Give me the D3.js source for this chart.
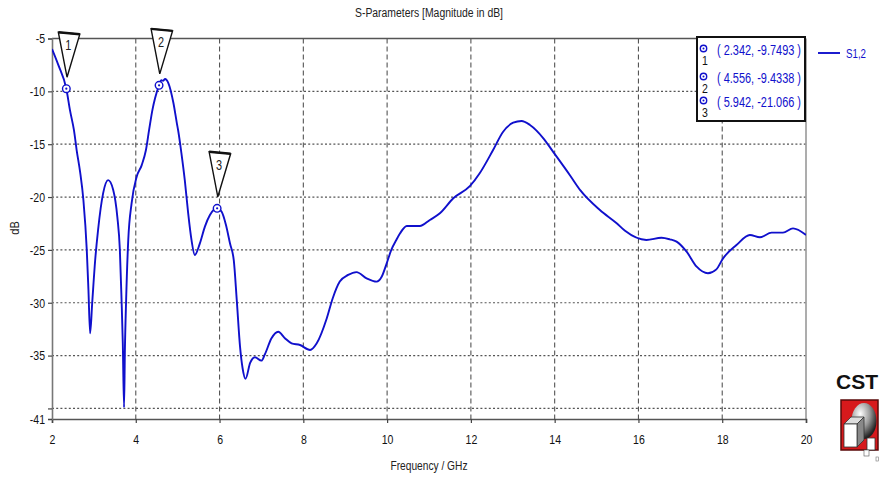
<!DOCTYPE html>
<html>
<head>
<meta charset="utf-8">
<script src="https://cdn.jsdelivr.net/npm/d3@7/dist/d3.min.js"></script>
<style>
  html, body { margin: 0; padding: 0; background: #fff; }
  svg { display: block; }
  .txt { font-family: "Liberation Sans", Arial, sans-serif; }
</style>
</head>
<body>
<svg id="chart" width="880" height="477"></svg>
<script>
// S1,2 magnitude (dB) against frequency (GHz)
const freq = [2.00, 2.15, 2.342, 2.43, 2.525, 2.59, 2.67, 2.75, 2.83, 2.87, 2.91, 2.96, 3.03, 3.10, 3.22, 3.34,
  3.46, 3.56, 3.62, 3.66, 3.69, 3.72, 3.74, 3.77, 3.82, 3.90, 4.02, 4.14, 4.24, 4.32, 4.40, 4.46, 4.556,
  4.61, 4.65, 4.70, 4.78, 4.90, 4.98, 5.01, 5.09, 5.17, 5.25, 5.33, 5.41, 5.53, 5.65, 5.77, 5.942, 6.05,
  6.15, 6.25, 6.34, 6.41, 6.49, 6.55, 6.62, 6.73, 6.845, 7.00, 7.08, 7.24, 7.40, 7.56, 7.72, 7.92, 8.16,
  8.32, 8.56, 8.70, 8.87, 9.07, 9.27, 9.51, 9.75, 9.87, 9.99, 10.10, 10.22, 10.31, 10.47, 10.78, 11.02,
  11.26, 11.58, 11.98, 12.21, 12.53, 12.77, 13.01, 13.21, 13.41, 13.73, 13.96, 14.36, 14.62, 15.08, 15.48,
  15.68, 16.19, 16.55, 16.75, 16.91, 17.15, 17.39, 17.66, 17.86, 18.02, 18.34, 18.66, 18.90, 19.18, 19.45,
  19.69, 20.00];
const s12 = [-6.0, -7.5, -9.7493, -11.8, -13.7, -15.6, -17.6, -20.3, -25.0, -28.8, -32.9, -30.0, -26.0, -23.1, -19.65, -18.4,
  -19.3, -21.9, -25.0, -29.7, -33.8, -39.9, -34.5, -29.7, -24.1, -20.6, -18.1, -17.0, -15.6, -13.6, -11.7, -10.66, -9.4338,
  -8.95, -9.0, -8.83, -9.24, -11.13, -13.0, -13.66, -15.86, -18.4, -21.5, -24.06, -25.48, -24.38, -22.8, -21.7, -21.066, -21.4,
  -22.6, -24.4, -26.0, -29.7, -34.2, -36.2, -37.2, -35.7, -35.16, -35.48, -34.9, -33.36, -32.74, -33.36, -33.84, -34.0, -34.47,
  -33.84, -31.47, -29.6, -28.0, -27.37, -27.1, -27.69, -28.0, -27.54, -26.27, -25.0, -24.06, -23.43, -22.74, -22.74, -22.17,
  -21.54, -20.12, -18.95, -17.75, -15.55, -13.82, -12.97, -12.8, -13.18, -14.44, -15.7, -17.91, -19.4, -21.23, -22.48,
  -23.2, -24.06, -23.85, -24.0, -24.22, -25.17, -26.59, -27.21, -26.84, -25.8, -24.54, -23.59, -23.81, -23.37, -23.37,
  -22.96, -23.59];

// Markers placed on the curve
const markerIds = ["1", "2", "3"];
const markerFreq = [2.342, 4.556, 5.942];
const markerDb = [-9.7493, -9.4338, -21.066];

// Axis ticks
const xTicks = [2, 4, 6, 8, 10, 12, 14, 16, 18, 20];
const yTicks = [-5, -10, -15, -20, -25, -30, -35, -41];
const yGrid = [-10, -15, -20, -25, -30, -35, -40];
const yTickMarks = [-5, -10, -15, -20, -25, -30, -35, -40, -41];

const seriesName = "S1,2";
const titleText = "S-Parameters [Magnitude in dB]";
const xLabel = "Frequency / GHz";
const yLabel = "dB";

const svg = d3.select("#chart");
const plot = { left: 52, right: 806, top: 38.5, bottom: 419 };
const lineBlue = "#1010cc";
const narrow = 0.78;

// Squeeze text horizontally around its anchor point (narrow UI face)
function condense(sel, f) {
  sel.each(function () {
    const t = d3.select(this);
    const tx = +t.attr("x") || 0, ty = +t.attr("y") || 0;
    t.attr("x", 0).attr("y", 0).attr("transform", `translate(${tx},${ty}) scale(${f},1)`);
  });
}

const x = d3.scaleLinear().domain([2, 20]).range([plot.left, plot.right]);
const y = d3.scaleLinear().domain([-41, -5]).range([plot.bottom, plot.top]);

// Grid
svg.append("g").selectAll("line").data(yGrid).join("line")
  .attr("x1", plot.left).attr("x2", plot.right)
  .attr("y1", d => y(d)).attr("y2", d => y(d))
  .attr("stroke", "#555").attr("stroke-width", 1.2).attr("stroke-dasharray", "2,2.2");
svg.append("g").selectAll("line").data(xTicks.slice(1, -1)).join("line")
  .attr("x1", d => x(d)).attr("x2", d => x(d))
  .attr("y1", plot.top).attr("y2", plot.bottom)
  .attr("stroke", "#555").attr("stroke-width", 1.1).attr("stroke-dasharray", "5,3");

// Frame
svg.append("line").attr("x1", plot.left).attr("x2", plot.right).attr("y1", plot.top).attr("y2", plot.top)
  .attr("stroke", "#555").attr("stroke-width", 1.6);
svg.append("line").attr("x1", plot.right).attr("x2", plot.right).attr("y1", plot.top).attr("y2", plot.bottom)
  .attr("stroke", "#999").attr("stroke-width", 1.6);

// Axes
const xAxis = d3.axisBottom(x).tickValues(xTicks).tickSize(4).tickPadding(11).tickFormat(d => String(d));
const yAxis = d3.axisLeft(y).tickValues(yTickMarks).tickSize(4).tickPadding(3)
  .tickFormat(d => yTicks.includes(d) ? String(d) : "");

const gx = svg.append("g").attr("transform", `translate(0,${plot.bottom})`).call(xAxis);
const gy = svg.append("g").attr("transform", `translate(${plot.left},0)`).call(yAxis);
[gx, gy].forEach(g => {
  g.select(".domain").attr("stroke", "#555").attr("stroke-width", 1.6);
  g.selectAll(".tick line").attr("stroke", "#444").attr("stroke-width", 1.2);
  g.selectAll(".tick text").attr("class", "txt").attr("font-size", 13.5).attr("fill", "#111");
  condense(g.selectAll(".tick text"), narrow);
});
gy.select(".domain").attr("stroke", "#777");

// Curve
svg.append("clipPath").attr("id", "plotClip").append("rect")
  .attr("x", plot.left).attr("y", plot.top - 2)
  .attr("width", plot.right - plot.left).attr("height", plot.bottom - plot.top + 2);

const line = d3.line().x((d, i) => x(freq[i])).y(d => y(d)).curve(d3.curveMonotoneX);
svg.append("path").datum(s12)
  .attr("clip-path", "url(#plotClip)")
  .attr("d", line).attr("fill", "none")
  .attr("stroke", lineBlue).attr("stroke-width", 1.9).attr("stroke-linejoin", "round");

// Marker flags and circles
const mk = svg.append("g");
markerIds.forEach((id, i) => {
  const px = x(markerFreq[i]), py = y(markerDb[i]);
  mk.append("path")
    .attr("d", `M${px + 0.7},${py - 11.5} L${px - 8},${py - 56.5} L${px + 13.5},${py - 54.5} Z`)
    .attr("fill", "#fff").attr("stroke", "#111").attr("stroke-width", 1.4).attr("stroke-linejoin", "miter");
  mk.append("line")
    .attr("x1", px - 8).attr("y1", py - 56.5).attr("x2", px + 13.5).attr("y2", py - 54.5)
    .attr("stroke", "#111").attr("stroke-width", 2.4);
  condense(mk.append("text").attr("class", "txt")
    .attr("x", px + 2).attr("y", py - 38.5)
    .attr("text-anchor", "middle").attr("font-size", 14).attr("fill", "#222").text(id), narrow);
  mk.append("circle").attr("cx", px).attr("cy", py).attr("r", 3.8)
    .attr("fill", "#fff").attr("stroke", lineBlue).attr("stroke-width", 1.4);
  mk.append("circle").attr("cx", px).attr("cy", py).attr("r", 1.1).attr("fill", lineBlue);
});

// Marker readout box
const box = svg.append("g");
box.append("rect").attr("x", 697).attr("y", 37).attr("width", 108).attr("height", 84)
  .attr("fill", "#fff").attr("stroke", "#111").attr("stroke-width", 2);
const rowY = [48.5, 76.5, 100.5];
markerIds.forEach((id, i) => {
  box.append("circle").attr("cx", 703.5).attr("cy", rowY[i]).attr("r", 3.2)
    .attr("fill", "#fff").attr("stroke", lineBlue).attr("stroke-width", 1.4);
  box.append("circle").attr("cx", 703.5).attr("cy", rowY[i]).attr("r", 1).attr("fill", lineBlue);
  condense(box.append("text").attr("class", "txt").attr("x", 705).attr("y", rowY[i] + 16)
    .attr("text-anchor", "middle").attr("font-size", 13.5).attr("fill", "#111").text(id), narrow);
  box.append("text").attr("class", "txt").attr("x", 717).attr("y", rowY[i] + 6.5)
    .attr("font-size", 14).attr("fill", lineBlue)
    .attr("textLength", 84).attr("lengthAdjust", "spacingAndGlyphs")
    .text(`( ${String(markerFreq[i])}, ${String(markerDb[i])} )`);
});

// Series legend
svg.append("line").attr("x1", 818).attr("x2", 840).attr("y1", 53).attr("y2", 53)
  .attr("stroke", lineBlue).attr("stroke-width", 1.9);
svg.append("text").attr("class", "txt").attr("x", 846).attr("y", 58)
  .attr("font-size", 13.5).attr("fill", lineBlue)
  .attr("textLength", 20).attr("lengthAdjust", "spacingAndGlyphs").text(seriesName);

// Title and axis labels
svg.append("text").attr("class", "txt").attr("x", 429).attr("y", 17)
  .attr("text-anchor", "middle").attr("font-size", 12.5).attr("fill", "#222")
  .attr("textLength", 148).attr("lengthAdjust", "spacingAndGlyphs").text(titleText);
svg.append("text").attr("class", "txt").attr("x", 429).attr("y", 469.5)
  .attr("text-anchor", "middle").attr("font-size", 13.5).attr("fill", "#222")
  .attr("textLength", 77).attr("lengthAdjust", "spacingAndGlyphs").text(xLabel);
svg.append("text").attr("class", "txt")
  .attr("transform", "translate(19,228) rotate(-90) scale(0.85,1)")
  .attr("text-anchor", "middle").attr("font-size", 13).attr("fill", "#222").text(yLabel);

// CST logo
const logo = svg.append("g");
logo.append("text").attr("x", 836).attr("y", 389)
  .attr("font-family", "'Liberation Sans', Arial, sans-serif").attr("font-weight", "bold")
  .attr("font-size", 21).attr("fill", "#111").text("CST");
const defs = svg.append("defs");
const rg = defs.append("radialGradient").attr("id", "sphereGrad").attr("cx", "35%").attr("cy", "30%").attr("r", "70%");
rg.append("stop").attr("offset", "0%").attr("stop-color", "#ffffff");
rg.append("stop").attr("offset", "55%").attr("stop-color", "#9a9a9a");
rg.append("stop").attr("offset", "100%").attr("stop-color", "#222");
logo.append("rect").attr("x", 841).attr("y", 400).attr("width", 37).attr("height", 50)
  .attr("fill", "#d7191c").attr("stroke", "#5a0a0a").attr("stroke-width", 1.5);
logo.append("ellipse").attr("cx", 864).attr("cy", 421).attr("rx", 12.5).attr("ry", 18)
  .attr("fill", "url(#sphereGrad)");
logo.append("path").attr("d", "M844,424 L851,417 L864,417 L857,424 Z").attr("fill", "#ddd").attr("stroke", "#333").attr("stroke-width", 0.8);
logo.append("path").attr("d", "M857,424 L864,417 L864,440 L857,447 Z").attr("fill", "#888").attr("stroke", "#333").attr("stroke-width", 0.8);
logo.append("rect").attr("x", 844).attr("y", 424).attr("width", 13).attr("height", 23)
  .attr("fill", "#fff").attr("stroke", "#333").attr("stroke-width", 0.8);
logo.append("rect").attr("x", 867).attr("y", 438).attr("width", 8).attr("height", 12)
  .attr("fill", "#fff").attr("stroke", "#333").attr("stroke-width", 0.8);
logo.append("rect").attr("x", 864).attr("y", 450).attr("width", 5).attr("height", 6)
  .attr("fill", "#fff").attr("stroke", "#555").attr("stroke-width", 0.6);
logo.append("rect").attr("x", 876).attr("y", 457).attr("width", 2.5).attr("height", 4)
  .attr("fill", "#fff").attr("stroke", "#777").attr("stroke-width", 0.6);
</script>
</body>
</html>
